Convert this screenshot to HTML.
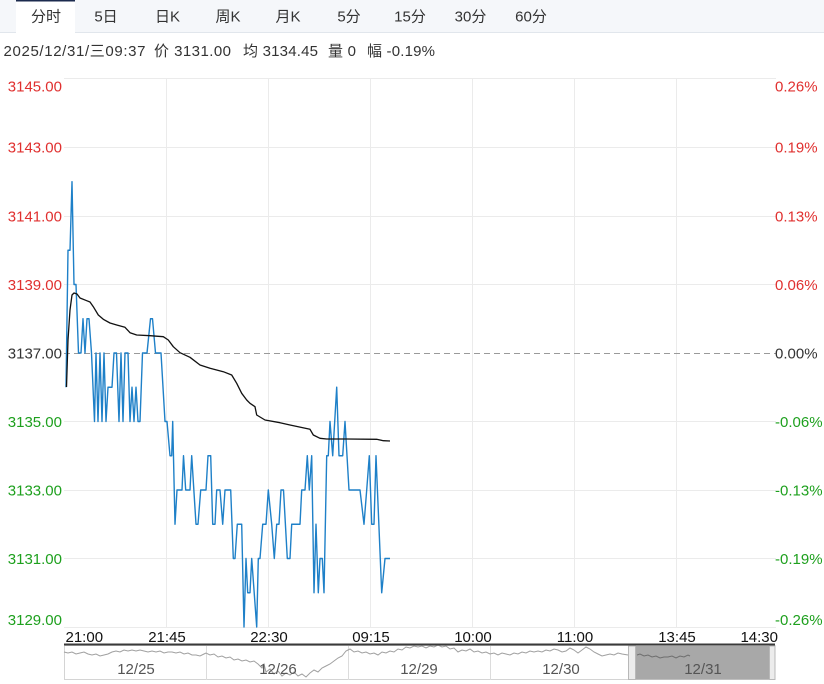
<!DOCTYPE html>
<html><head><meta charset="utf-8"><style>
html,body{margin:0;padding:0;background:#fff;}
svg{display:block;font-family:"Liberation Sans","Noto Sans CJK SC",sans-serif;}
</style></head><body>
<svg width="824" height="684" viewBox="0 0 824 684" xmlns="http://www.w3.org/2000/svg">
<!-- tab bar -->
<rect x="0" y="0" width="824" height="33" fill="#f5f7fa"/>
<line x1="0" y1="32.5" x2="824" y2="32.5" stroke="#e1e6ec" stroke-width="1"/>
<rect x="16" y="0" width="59" height="33" fill="#ffffff"/>
<line x1="16" y1="0.75" x2="75" y2="0.75" stroke="#1b2a4e" stroke-width="1.5"/>
<g font-size="15" fill="#333" text-anchor="middle">
<text x="46" y="21.5">分时</text>
<text x="106" y="21.5">5日</text>
<text x="167.5" y="21.5">日K</text>
<text x="228" y="21.5">周K</text>
<text x="288" y="21.5">月K</text>
<text x="349" y="21.5">5分</text>
<text x="410" y="21.5">15分</text>
<text x="470.5" y="21.5">30分</text>
<text x="531" y="21.5">60分</text>
</g>
<!-- info row -->
<g font-size="15" fill="#333">
<text x="3.5" y="56" textLength="142" lengthAdjust="spacing">2025/12/31/三09:37</text>
<text x="154" y="56" textLength="77" lengthAdjust="spacing">价 3131.00</text>
<text x="243" y="56" textLength="75" lengthAdjust="spacing">均 3134.45</text>
<text x="328" y="56" textLength="28" lengthAdjust="spacing">量 0</text>
<text x="367" y="56" textLength="68" lengthAdjust="spacing">幅 -0.19%</text>
</g>
<!-- grid -->
<g stroke="#ebebeb" stroke-width="1">
<line x1="64" y1="78.5" x2="776" y2="78.5"/>
<line x1="64" y1="147.5" x2="776" y2="147.5"/>
<line x1="64" y1="216.5" x2="776" y2="216.5"/>
<line x1="64" y1="284.5" x2="776" y2="284.5"/>
<line x1="64" y1="421.5" x2="776" y2="421.5"/>
<line x1="64" y1="490.5" x2="776" y2="490.5"/>
<line x1="64" y1="558.5" x2="776" y2="558.5"/>
<line x1="64" y1="627.5" x2="776" y2="627.5"/>
<line x1="166.5" y1="78" x2="166.5" y2="627"/>
<line x1="268.5" y1="78" x2="268.5" y2="627"/>
<line x1="370.5" y1="78" x2="370.5" y2="627"/>
<line x1="472.5" y1="78" x2="472.5" y2="627"/>
<line x1="574.5" y1="78" x2="574.5" y2="627"/>
<line x1="676.5" y1="78" x2="676.5" y2="627"/>
</g>
<line x1="64" y1="353.5" x2="776" y2="353.5" stroke="#9a9a9a" stroke-width="1" stroke-dasharray="6,4"/>
<!-- left labels -->
<g font-size="15" text-anchor="end">
<text x="62" y="91.3" fill="#e0302f">3145.00</text>
<text x="62" y="152.3" fill="#e0302f">3143.00</text>
<text x="62" y="221.3" fill="#e0302f">3141.00</text>
<text x="62" y="289.8" fill="#e0302f">3139.00</text>
<text x="62" y="358.3" fill="#333">3137.00</text>
<text x="62" y="426.8" fill="#1ea01e">3135.00</text>
<text x="62" y="495.3" fill="#1ea01e">3133.00</text>
<text x="62" y="563.8" fill="#1ea01e">3131.00</text>
<text x="62" y="624.8" fill="#1ea01e">3129.00</text>
</g>
<!-- right labels -->
<g font-size="15" text-anchor="start">
<text x="775" y="91.3" fill="#e0302f">0.26%</text>
<text x="775" y="152.3" fill="#e0302f">0.19%</text>
<text x="775" y="221.3" fill="#e0302f">0.13%</text>
<text x="775" y="289.8" fill="#e0302f">0.06%</text>
<text x="775" y="358.3" fill="#333">0.00%</text>
<text x="775" y="426.8" fill="#1ea01e">-0.06%</text>
<text x="775" y="495.3" fill="#1ea01e">-0.13%</text>
<text x="775" y="563.8" fill="#1ea01e">-0.19%</text>
<text x="775" y="624.8" fill="#1ea01e">-0.26%</text>
</g>
<!-- price line -->
<polyline fill="none" stroke="#1e80c8" stroke-width="1.4" stroke-linejoin="round" points="
66,387.25 68,250.25 70,250.25 72,181.75 74,284.5 76,284.5 78.5,353 81,353 83,318.75 85,353 87,318.75 89,318.75
91.5,353 94.5,421.5 96,353 98,421.5 100,353 102,421.5 104,353 106,421.5 108,387.25 112,387.25 114,353 116.5,353
119,421.5 121,353 123,421.5 125,353 128,353 130,421.5 132,387.25 134,421.5 136,387.25 138,421.5 140,421.5
142.5,353 147,353 150.5,318.75 152.5,318.75 155.5,353 161,353 165,421.5 167,421.5 170,455.75 171.7,455.75
172.7,421.5 175,524.25 177,490 182,490 183.5,455.75 185.7,490 190,490 191.7,455.75 196,524.25 198,524.25
200.7,490 206,490 208,455.75 210.7,455.75 212.7,524.25 215,524.25 216.7,490 220,490 222.7,524.25 225,490
230.7,490 233.3,558.5 235,558.5 237.3,524.25 241.7,524.25 244,627 246,558.5 247.7,592.75 250,592.75
251.7,558.5 256.7,627 258.3,558.5 260,558.5 262.7,524.25 266,524.25 268.3,490 271.7,524.25 274.3,558.5
276.7,524.25 279,524.25 281,490 283.5,490 287.3,558.5 290,558.5 291.7,524.25 300,524.25 301.7,490 305,490
307.3,455.75 309.3,490 311.7,455.75 314,592.75 316,524.25 318.3,592.75 320,558.5 322.3,558.5 324,592.75
326.7,455.75 328.3,455.75 330,421.5 332.7,455.75 336.7,387.25 339,455.75 342.7,455.75 345,421.5 349,490
360,490 364,524.25 366.7,490 369.3,455.75 371.7,524.25 374,524.25 376,455.75 381.7,592.75 385,558.5 390,558.5"/>
<!-- average line -->
<polyline fill="none" stroke="#111" stroke-width="1.3" stroke-linejoin="round" points="
66.5,387 68,340 70,310 72,295 74,293 77,294 80,298 86.7,300.7 90,302 93.3,306.7 98.3,315 103.3,319.3 110,323
116.7,325 125,327.3 130,332.7 136.7,335 150,335.7 163.3,336.7 168.3,340 173.3,346.7 180,352.7 190,357.3
200,365 210,368.3 223.3,371.7 231.7,375 236.7,383.3 241.7,393.3 246.7,400 250,403.3 255,406.7 256.7,415
265,420 280,422.7 290,425 310,429.3 313.3,435 320,438.3 326.7,439 346.7,439 376.7,439.3 383.3,440.7 390,441"/>
<!-- time labels -->
<g font-size="15" fill="#111">
<text x="65.5" y="642" text-anchor="start">21:00</text>
<text x="167" y="642" text-anchor="middle">21:45</text>
<text x="269" y="642" text-anchor="middle">22:30</text>
<text x="371" y="642" text-anchor="middle">09:15</text>
<text x="473" y="642" text-anchor="middle">10:00</text>
<text x="575" y="642" text-anchor="middle">11:00</text>
<text x="677" y="642" text-anchor="middle">13:45</text>
<text x="778" y="642" text-anchor="end">14:30</text>
</g>
<!-- navigator -->
<rect x="64.5" y="645.5" width="710.5" height="34" fill="#fff" stroke="#d4d4d4" stroke-width="1"/>
<rect x="636" y="646" width="133" height="33.5" fill="#a8a8a8"/>
<g stroke="#dcdcdc" stroke-width="1">
<line x1="206.5" y1="646" x2="206.5" y2="680"/>
<line x1="348.5" y1="646" x2="348.5" y2="680"/>
<line x1="490.5" y1="646" x2="490.5" y2="680"/>
</g>
<polyline fill="none" stroke="#a0a0a0" stroke-width="1" points="
64,652 68,653 72,652 76,654 80,653 84,652 88,654 92,655 96,654 100,656 104,655 108,654 112,652 116,651 120,652 124,650 128,651 132,650 136,651 140,650 144,651 148,652 152,651 156,652 160,651 164,653 168,652 172,652 176,653 180,652 184,654 188,653 192,655 196,655 200,656 204,654
206,653 210,655 214,654 218,657 222,656 226,658 230,657 234,660 238,659 242,661 246,660 250,662 254,661 258,664 262,668 264,664 266,672 270,669 274,674 278,671 282,676 286,673 290,675 294,672 298,676 302,674 306,677 310,673 314,670 318,672 322,668 326,666 330,664 334,661 338,658 342,656 346,651 348,650
350,649 354,652 358,651 362,653 366,652 370,654 374,653 378,655 382,652 386,653 390,651 394,652 398,649 402,650 406,647 410,648 414,646 418,647 422,646 426,648 430,646 434,647 438,645 442,647 446,646 450,649 454,648 458,652 462,650 466,651 470,649 474,652 478,651 482,653 486,652 490,654
494,653 498,655 502,653 506,654 510,655 514,653 518,654 522,652 526,653 530,651 534,652 538,651 542,652 546,650 550,651 554,649 558,650 562,652 566,651 570,648 574,650 578,653 582,650 586,647 590,649 594,652 598,654 602,656 606,655 610,654 614,655 618,653 622,654 628,655"/>
<polyline fill="none" stroke="#6e6e6e" stroke-width="1" points="
637,655 640,654 644,656 648,655 652,657 656,656 660,658 664,657 668,657 672,656 676,658 680,656 684,657 688,655 690,656"/>
<rect x="628.5" y="646" width="7" height="33.5" fill="#ececec" stroke="#b8b8b8" stroke-width="1"/>
<rect x="769.5" y="646" width="5.5" height="33.5" fill="#ececec" stroke="#b8b8b8" stroke-width="1"/>
<line x1="64" y1="644.5" x2="775" y2="644.5" stroke="#3a3a3a" stroke-width="2"/>
<g font-size="15" fill="#555" text-anchor="middle">
<text x="136" y="674">12/25</text>
<text x="278" y="674">12/26</text>
<text x="419" y="674">12/29</text>
<text x="561" y="674">12/30</text>
<text x="703" y="674">12/31</text>
</g>
</svg>
</body></html>
